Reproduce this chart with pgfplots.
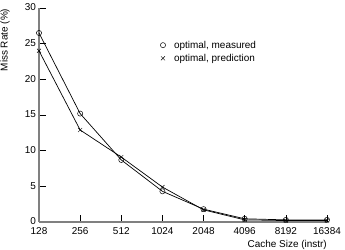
\documentclass[border=0pt]{standalone}
\usepackage{pgfplots}
\pgfplotsset{compat=1.18}
\usetikzlibrary{calc}
\usepackage{fontspec}
\setmainfont{Liberation Sans}
\begin{document}
\fontsize{10}{12}\selectfont
\begin{tikzpicture}
\begin{axis}[
  scale only axis, width=288bp, height=214bp,
  xmin=0, xmax=7, ymin=0, ymax=30,
  axis lines=left,
  axis line style={draw=gray, line width=1.6pt, -},
  xtick={0,...,7},
  xticklabels={128,256,512,1024,2048,4096,8192,16384},
  ytick={0,5,10,15,20,25,30},
  tick align=inside,
  major tick length=7bp,
  tick style={black, line width=0.6pt},
  every tick label/.style={font=\fontsize{10}{12}\selectfont},
  /pgf/number format/assume math mode=true,
  xticklabel style={yshift=-2.5bp},
  yticklabel style={xshift=0.5bp, yshift=0.5bp},
  clip=false,
  legend style={draw=none, fill=none, at={(rel axis cs:0.42,0.857)}, anchor=north west, font=\fontsize{10}{12}\selectfont, row sep=0.5pt, inner sep=0pt},
  legend cell align=left,
  legend image code/.code={\path[draw=none] (0cm,0cm) -- (0.42cm,0cm); \path[#1] plot coordinates {(0.1cm,0cm)};},
]
\addplot[black, line width=0.7pt, mark=o, mark size=2.6pt, mark options={line width=0.5pt}] coordinates {
 (0,26.5) (1,15.2) (2,8.7) (3,4.3) (4,1.8) (5,0.45) (6,0.3) (7,0.3)};
\addlegendentry{optimal, measured}
\addplot[black, line width=0.7pt, mark=x, mark size=2.8pt, mark options={line width=0.5pt}] coordinates {
 (0,24.0) (1,12.9) (2,9.1) (3,4.9) (4,1.7) (5,0.3) (6,0.2) (7,0.2)};
\addlegendentry{optimal, prediction}
\path (rel axis cs:0,0) coordinate (O);
\node[rotate=90, anchor=south, inner sep=0pt, font=\fontsize{10}{12}\selectfont] at ($(rel axis cs:0,0)+(-29bp,182bp)$) {Miss Rate (\%)};
\node[anchor=base east, inner sep=0pt, font=\fontsize{10}{12}\selectfont] at ($(rel axis cs:1,0)+(0bp,-25bp)$) {Cache Size (instr)};
\end{axis}
\pgfresetboundingbox
\path[use as bounding box] ($(O)+(-39bp,-28bp)$) rectangle ++(345bp,250bp);
\end{tikzpicture}
\end{document}
